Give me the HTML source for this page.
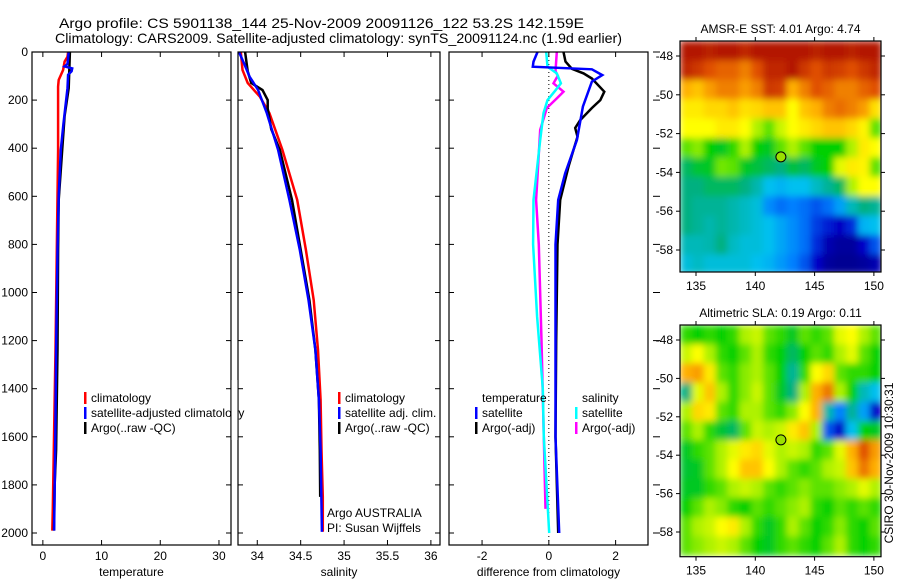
<!DOCTYPE html>
<html><head><meta charset="utf-8"><style>
body{margin:0;background:#fff}
svg{display:block;font-family:"Liberation Sans",sans-serif}
</style></head><body>
<svg id="chart" width="900" height="580" viewBox="0 0 900 580" xmlns="http://www.w3.org/2000/svg">
<defs><filter id="smooth" x="0" y="0" width="1" height="1"><feGaussianBlur stdDeviation="3.5" edgeMode="duplicate"/></filter></defs>
<rect width="900" height="580" fill="#fff"/>
<text x="59" y="28" font-size="14" textLength="525" lengthAdjust="spacingAndGlyphs">Argo profile: CS 5901138_144 25-Nov-2009 20091126_122 53.2S 142.159E</text>
<text x="55" y="43" font-size="14" textLength="567" lengthAdjust="spacingAndGlyphs">Climatology: CARS2009. Satellite-adjusted climatology: synTS_20091124.nc (1.9d earlier)</text>
<g id="plots"></g>
</svg>
<script>
// ---------- profile data ----------
const depthTicks=[0,200,400,600,800,1000,1200,1400,1600,1800,2000];
const tempTicks=[0,10,20,30];
const salTicks=[34,34.5,35,35.5,36];
const diffTicks=[-2,0,2];
const tClimD=[0,20,40,75,116,144,407,823,1239,1655,1900,1990];
const tClim=[4.3,4.2,3.7,3.45,2.7,2.6,2.6,2.37,2.15,1.86,1.7,1.6];
const tSatD=[0,50,60,68,80,95,150,300,407,600,823,1239,1655,1990];
const tSat=[4.4,4.2,3.7,5.0,4.9,4.3,4.2,3.5,3.05,2.7,2.5,2.26,2.1,1.92];
const tArgoD=[0,150,266,407,615,823,1239,1655,1805,1990];
const tArgo=[4.6,4.4,3.7,3.3,2.7,2.6,2.5,2.26,2.0,1.9];
const sClimD=[0,75,129,186,254,407,615,823,1031,1239,1447,1655,1850,1995];
const sClim=[33.81,33.83,33.89,34.03,34.14,34.29,34.46,34.56,34.65,34.70,34.73,34.74,34.755,34.755];
const sSatD=[0,50,102,158,254,407,615,823,1031,1239,1447,1655,1995];
const sSat=[33.79,33.85,33.91,34.01,34.11,34.24,34.37,34.49,34.59,34.67,34.71,34.73,34.745];
const sArgoD=[0,80,129,158,200,235,320,407,615,823,1031,1239,1447,1655,1850];
const sArgo=[33.86,33.89,33.93,34.06,34.12,34.12,34.16,34.26,34.40,34.50,34.60,34.67,34.71,34.72,34.725];
const dTSatD=[0,40,61,72,96,123,227,366,504,615,800,1200,1600,2000];
const dTSat=[-0.34,-0.46,-0.48,1.29,1.6,1.29,1.02,0.84,0.49,0.28,0.2,0.2,0.2,0.31];
const dTArgoD=[0,40,70,89,110,165,200,233,283,316,352,407,477,615,800,1200,1600,2000];
const dTArgo=[0.44,0.5,0.69,1.04,1.29,1.66,1.54,1.29,0.94,0.79,0.86,0.74,0.59,0.34,0.26,0.22,0.2,0.28];
const dSSatD=[0,61,89,130,161,200,254,366,615,800,1100,1400,1600,2000];
const dSSat=[-0.08,-0.04,0.24,0.36,0.19,-0.04,-0.16,-0.26,-0.46,-0.47,-0.35,-0.18,-0.15,0.01];
const dSArgoD=[0,80,99,130,165,193,233,324,615,800,1200,1600,1900];
const dSArgo=[0.24,0.2,0.27,0.14,0.44,0.24,-0.06,-0.26,-0.38,-0.3,-0.22,-0.15,-0.1];
// ---------- map data ----------
const lonTicks=[135,140,145,150];
const latTicks=[-48,-50,-52,-54,-56,-58];
const sstGrid=[
[0.97,0.97,0.96,0.97,0.97,0.95,0.97,0.97,0.97,0.97,0.97,0.96,0.97,0.97,0.96,0.97,0.97],
[0.95,0.93,0.9,0.88,0.88,0.85,0.9,0.95,0.95,0.97,0.93,0.9,0.93,0.92,0.9,0.93,0.95],
[0.8,0.78,0.82,0.85,0.85,0.82,0.85,0.93,0.92,0.8,0.85,0.9,0.88,0.85,0.85,0.88,0.9],
[0.74,0.74,0.76,0.76,0.78,0.75,0.76,0.78,0.78,0.72,0.78,0.8,0.85,0.87,0.85,0.82,0.75],
[0.72,0.72,0.72,0.74,0.74,0.72,0.66,0.62,0.68,0.72,0.74,0.76,0.78,0.78,0.76,0.73,0.62],
[0.62,0.64,0.58,0.56,0.6,0.66,0.58,0.56,0.62,0.66,0.62,0.58,0.58,0.58,0.66,0.74,0.72],
[0.52,0.55,0.56,0.63,0.62,0.56,0.54,0.52,0.5,0.54,0.52,0.56,0.58,0.7,0.74,0.73,0.62],
[0.5,0.5,0.52,0.52,0.52,0.5,0.46,0.4,0.38,0.4,0.4,0.44,0.48,0.52,0.66,0.72,0.72],
[0.5,0.48,0.48,0.48,0.46,0.44,0.42,0.32,0.28,0.3,0.28,0.25,0.28,0.35,0.45,0.5,0.48],
[0.5,0.48,0.46,0.48,0.46,0.44,0.42,0.4,0.36,0.32,0.28,0.22,0.18,0.14,0.2,0.38,0.4],
[0.45,0.45,0.46,0.5,0.44,0.42,0.42,0.4,0.36,0.32,0.28,0.2,0.1,0.06,0.06,0.15,0.25],
[0.42,0.44,0.42,0.42,0.42,0.42,0.4,0.38,0.34,0.3,0.25,0.15,0.06,0.04,0.04,0.06,0.1]];
const slaGrid=[
[0.6,0.58,0.6,0.58,0.6,0.66,0.68,0.62,0.6,0.56,0.62,0.6,0.62,0.7,0.72,0.66,0.62],
[0.68,0.72,0.66,0.6,0.58,0.62,0.66,0.6,0.58,0.52,0.58,0.62,0.6,0.66,0.7,0.62,0.58],
[0.8,0.82,0.74,0.62,0.6,0.64,0.66,0.62,0.58,0.48,0.6,0.72,0.76,0.62,0.6,0.6,0.58],
[0.5,0.7,0.78,0.66,0.6,0.64,0.68,0.62,0.56,0.5,0.66,0.8,0.86,0.66,0.58,0.45,0.4],
[0.66,0.76,0.74,0.62,0.6,0.66,0.66,0.62,0.6,0.64,0.72,0.8,0.46,0.3,0.48,0.35,0.15],
[0.62,0.66,0.6,0.55,0.52,0.62,0.68,0.66,0.68,0.74,0.78,0.66,0.25,0.15,0.4,0.58,0.56],
[0.56,0.6,0.62,0.66,0.7,0.74,0.76,0.7,0.66,0.68,0.66,0.6,0.62,0.7,0.8,0.9,0.82],
[0.55,0.56,0.62,0.66,0.72,0.78,0.78,0.72,0.66,0.62,0.6,0.62,0.66,0.68,0.78,0.86,0.8],
[0.56,0.56,0.6,0.62,0.66,0.68,0.66,0.62,0.6,0.62,0.64,0.62,0.62,0.64,0.66,0.7,0.66],
[0.58,0.62,0.66,0.64,0.6,0.58,0.62,0.6,0.62,0.64,0.66,0.6,0.58,0.62,0.6,0.62,0.6],
[0.62,0.66,0.68,0.72,0.74,0.66,0.6,0.56,0.6,0.66,0.62,0.58,0.6,0.64,0.6,0.58,0.62],
[0.62,0.64,0.66,0.68,0.66,0.62,0.58,0.56,0.6,0.62,0.6,0.58,0.62,0.66,0.6,0.58,0.6]];
const argoLon=142.159, argoLat=-53.2;

const NS='http://www.w3.org/2000/svg';
const root=document.getElementById('plots');
function mk(tag,attrs,parent,txt){const e=document.createElementNS(NS,tag);for(const k in attrs)e.setAttribute(k,attrs[k]);if(txt!==undefined)e.textContent=txt;(parent||root).appendChild(e);return e;}

const Y0=52,Y1=545;
const yD=d=>52+d*0.2405;
const panels=[
 {x0:32,x1:231,lo:-1.85,hi:32.05,ticks:tempTicks,label:'temperature',name:'temperature-panel'},
 {x0:238,x1:440,lo:33.778,hi:36.105,ticks:salTicks,label:'salinity',name:'salinity-panel'},
 {x0:449,x1:648,lo:-2.99,hi:2.97,ticks:diffTicks,label:'difference from climatology',name:'difference-panel'}];
panels.forEach((p,i)=>{p.sx=v=>p.x0+(v-p.lo)/(p.hi-p.lo)*(p.x1-p.x0);
 const g=mk('g',{});
 
 
 const cp=mk('clipPath',{id:'clip'+i},g);mk('rect',{x:p.x0,y:Y0,width:p.x1-p.x0,height:Y1-Y0},cp);
 p.g=g;
 p.ticks.forEach(t=>{const x=p.sx(t);
  mk('line',{x1:x,x2:x,y1:Y1,y2:Y1-5,stroke:'#000'},g);mk('line',{x1:x,x2:x,y1:Y0,y2:Y0+5,stroke:'#000'},g);
  const tl=mk('text',{x:x,y:560,'font-size':12,'text-anchor':'middle'},g,String(t));
  
  });
 depthTicks.forEach(d=>{const y=yD(d);
  if(i<2){mk('line',{x1:p.x0,x2:p.x0+5,y1:y,y2:y,stroke:'#000'},g);mk('line',{x1:p.x1,x2:p.x1-5,y1:y,y2:y,stroke:'#000'},g);}
  else{mk('line',{x1:p.x0,x2:p.x0+5,y1:y,y2:y,stroke:'#000'},g);mk('line',{x1:653,x2:660,y1:y,y2:y,stroke:'#000'},g);}
  if(i===0){const tl=mk('text',{x:28,y:y+4,'font-size':12,'text-anchor':'end'},g,String(d));
   
   }});
 const xl=mk('text',{x:(p.x0+p.x1)/2,y:576,'font-size':12,'text-anchor':'middle'},g,p.label);
 
 
});
function series(p,i,D,V,col,w,name){const pts=D.map((d,k)=>p.sx(V[k]).toFixed(1)+','+yD(d).toFixed(1)).join(' ');
 const l=mk('polyline',{points:pts,fill:'none',stroke:col,'stroke-width':w,'stroke-linejoin':'miter','clip-path':'url(#clip'+i+')'},p.g);
 
 }
const P=panels;
mk('line',{x1:P[2].sx(0),x2:P[2].sx(0),y1:Y0,y2:Y1,stroke:'#000','stroke-dasharray':'1,3'},P[2].g);
series(P[0],0,tClimD,tClim,'#f00',2.5,'temp-climatology-line');
series(P[0],0,tArgoD,tArgo,'#000',2.5,'temp-argo-line');
series(P[0],0,tSatD,tSat,'#00f',2.5,'temp-satellite-line');
series(P[1],1,sClimD,sClim,'#f00',2.5,'sal-climatology-line');
series(P[1],1,sArgoD,sArgo,'#000',2.5,'sal-argo-line');
series(P[1],1,sSatD,sSat,'#00f',2.5,'sal-satellite-line');
series(P[2],2,dSArgoD,dSArgo,'#f0f',2.5,'diff-sal-argo-line');
series(P[2],2,dSSatD,dSSat,'#0ff',2.5,'diff-sal-satellite-line');
series(P[2],2,dTArgoD,dTArgo,'#000',2.5,'diff-temp-argo-line');
series(P[2],2,dTSatD,dTSat,'#00f',2.5,'diff-temp-satellite-line');
function leg(x,y,col,txt,parent){const g=mk('g',{},parent);
 
 
 if(col)mk('rect',{x:x-7,y:y-10,width:2.5,height:12,fill:col},g);
 mk('text',{x:x,y:y,'font-size':12},g,txt);}
const lg1=mk('g',{});
leg(91,402,'#f00','climatology',lg1);leg(91,417,'#00f','satellite-adjusted climatology',lg1);leg(91,432,'#000','Argo(..raw -QC)',lg1);
mk('rect',{x:231.5,y:380,width:6,height:60,fill:'#fff'});
const lg2=mk('g',{});
leg(345,402,'#f00','climatology',lg2);leg(345,417,'#00f','satellite adj. clim.',lg2);leg(345,432,'#000','Argo(..raw -QC)',lg2);
const lg3=mk('g',{});
leg(482,402,null,'temperature',lg3);leg(482,417,'#00f','satellite',lg3);leg(482,432,'#000','Argo(-adj)',lg3);
leg(582,402,null,'salinity',lg3);leg(582,417,'#0ff','satellite',lg3);leg(582,432,'#f0f','Argo(-adj)',lg3);
const ag=mk('text',{x:327,y:517,'font-size':12},root,'Argo AUSTRALIA');
const pi=mk('text',{x:327,y:532,'font-size':12},root,'PI: Susan Wijffels');
panels.forEach(p=>{mk('rect',{x:p.x0,y:Y0,width:p.x1-p.x0,height:Y1-Y0,fill:'none',stroke:'#000','stroke-width':1.2},p.g);});

// ---------- maps ----------
const stops=[[0,[0,0,128]],[0.15,[0,0,200]],[0.3,[0,128,255]],[0.4,[0,192,240]],[0.5,[0,176,128]],[0.58,[0,208,0]],[0.65,[160,240,0]],[0.72,[255,255,0]],[0.8,[255,176,0]],[0.9,[224,80,0]],[1,[160,0,0]]];
function cmap(v){for(let k=1;k<stops.length;k++){if(v<=stops[k][0]){const a=stops[k-1],b=stops[k],t=(v-a[0])/(b[0]-a[0]);return 'rgb('+a[1].map((c,j)=>Math.round(c+(b[1][j]-c)*t)).join(',')+')';}}return 'rgb(160,0,0)';}
function drawMap(grid,top,bot,lat48,pxDeg,title,name){
 const g=mk('g',{});
 const L=680,R=881,lon0=133.65,lon1=150.6;
 const sx=lon=>L+(lon-lon0)/(lon1-lon0)*(R-L);
 const sy=lat=>lat48+(-48-lat)*pxDeg;
 const latTop=-48+(lat48-top)/pxDeg;
 const cp=mk('clipPath',{id:'c'+name},g);mk('rect',{x:L,y:top,width:R-L,height:bot-top},cp);
 const outer=mk('g',{'clip-path':'url(#c'+name+')'},g);
 const cg=mk('g',{filter:'url(#smooth)'},outer);
 grid.forEach((row,i)=>row.forEach((v,j)=>{const x=sx(lon0+j),y=sy(latTop-i);
  const c=mk('rect',{x:x.toFixed(1),y:y.toFixed(1),width:(sx(lon0+j+1)-x+0.5).toFixed(1),height:(pxDeg+0.5).toFixed(1),fill:cmap(v)},cg);
  
  }));
 mk('rect',{x:L,y:top,width:R-L,height:bot-top,fill:'none',stroke:'#000','stroke-width':1.2},g);
 lonTicks.forEach(t=>{const x=sx(t);mk('line',{x1:x,x2:x,y1:top,y2:top-4,stroke:'#000'},g);mk('line',{x1:x,x2:x,y1:bot,y2:bot+4,stroke:'#000'},g);
  const tl=mk('text',{x:x,y:bot+18,'font-size':12,'text-anchor':'middle'},g,String(t));
  
  });
 latTicks.forEach(t=>{const y=sy(t);mk('line',{x1:L,x2:L-4,y1:y,y2:y,stroke:'#000'},g);mk('line',{x1:R,x2:R+4,y1:y,y2:y,stroke:'#000'},g);
  const tl=mk('text',{x:673,y:y+4,'font-size':12,'text-anchor':'end'},g,String(t));
  
  });
 const tt=mk('text',{x:(L+R)/2,y:top-8,'font-size':12,'text-anchor':'middle'},g,title);
 
 
 const m=mk('circle',{cx:sx(argoLon),cy:sy(argoLat),r:5,fill:'#9be000',stroke:'#000','stroke-width':1},g);
 
 
}
drawMap(sstGrid,41,272,56,19.4,'AMSR-E SST: 4.01 Argo: 4.74','sst-map');
drawMap(slaGrid,325,556.7,340,19.2,'Altimetric SLA: 0.19 Argo: 0.11','sla-map');
const ts=mk('text',{x:0,y:0,'font-size':12,'text-anchor':'middle',transform:'translate(893,463) rotate(-90)'},root,'CSIRO 30-Nov-2009 10:30:31');


</script>
</body></html>
